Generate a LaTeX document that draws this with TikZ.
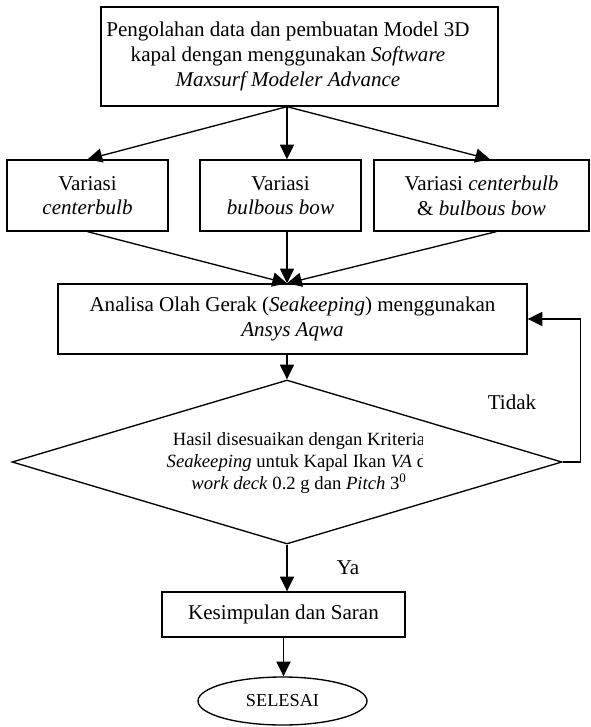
\documentclass[tikz,border=0pt]{standalone}
\usepackage{fontspec}
\setmainfont{Liberation Serif}
\usetikzlibrary{arrows.meta,shapes.geometric}

\tikzset{every picture/.style={line width=1pt}}
\tikzset{
  kotak/.style={draw, rectangle, inner sep=0pt, align=center, font=\fontsize{15.8}{18.5}\selectfont},
  belah/.style={draw, diamond, inner sep=0pt, shape aspect=3.35},
  bulat/.style={draw, ellipse, inner sep=0pt, font=\fontsize{13.7}{16}\selectfont},
  panah/.style={-{Triangle[length=11pt,width=10.5pt]}},
  teks/.style={font=\fontsize{15.8}{18.5}\selectfont}
}

\begin{document}
\begin{tikzpicture}[x=0.75pt,y=0.75pt,yscale=-1,xscale=1]
	\useasboundingbox (0,0) rectangle (590,727);

	%Shape: Rectangle [olah]
	\node[kotak, minimum width=297.75pt, minimum height=74.25pt] (olah) at (299.5,56.5) {};
	%Shape: Rectangle [variasi]
	\node[kotak, minimum width=120.75pt, minimum height=53.25pt] (v1) at (87.5,195.5) {Variasi\\ \textit{centerbulb}};
	\node[kotak, minimum width=120.75pt, minimum height=53.25pt] (v2) at (280.5,195.5) {Variasi\\ \textit{bulbous bow}};
	\node[kotak, minimum width=161.25pt, minimum height=53.25pt] (v3) at (481.5,195.5) {Variasi \textit{centerbulb}\\ \& \textit{bulbous bow}};
	%Shape: Rectangle [analisa]
	\node[kotak, minimum width=351.75pt, minimum height=52.5pt] (analisa) at (292.5,319) {Analisa Olah Gerak (\textit{Seakeeping}) menggunakan\\ \textit{Ansys Aqwa}};
	%Shape: Diamond [cek]
	\node[belah, minimum width=412.5pt, minimum height=123pt] (cek) at (287,462) {};
	%Shape: Rectangle [simpul]
	\node[kotak, minimum width=182.25pt, minimum height=33.75pt] (simpul) at (283.5,614.5) {Kesimpulan dan Saran};
	%Shape: Ellipse [selesai]
	\node[bulat, minimum width=126.75pt, minimum height=36pt] (selesai) at (282.5,701) {SELESAI};

	% Text Node
	\node[teks, align=center] (olahteks) at (288,56.5) {Pengolahan data dan pembuatan Model 3D\\ kapal dengan menggunakan \textit{Software}\\ \textit{Maxsurf Modeler Advance}};
	% Text Node
	\begin{scope}
	\clip (150,430) rectangle (422,500);
	\node[align=center, font=\fontsize{14}{16.5}\selectfont] (syarat) at (299,463) {Hasil disesuaikan dengan Kriteria\\ \textit{Seakeeping} untuk Kapal Ikan \textit{VA} di\\ \textit{work deck} 0.2 g dan \textit{Pitch} 3\textsuperscript{0}};
	\end{scope}
	% Text Node
	\node[teks] (tidak) at (512,402) {Tidak};
	% Text Node
	\node[teks] (ya) at (348,568) {Ya};

	%Straight Lines
	\coordinate (pecah) at ([xshift=-9.4pt]olah.south);
	\draw[panah] (pecah) -- (v1.north);
	\draw[panah] (pecah) -- (pecah |- v2.north);
	\draw[panah] (pecah) -- ([xshift=6.4pt]v3.north);
	\coordinate (temu) at ([xshift=-4.1pt]analisa.north);
	\draw[panah] (v1.south) -- (temu);
	\draw[panah] (temu |- v2.south) -- (temu);
	\draw[panah] ([xshift=11pt]v3.south) -- (temu);
	\draw[panah] (cek.north |- analisa.south) -- (cek.north);
	\draw[panah] (cek.east) -- ++(18,0) |- (analisa.east);
	\draw[panah] (cek.south) -- (cek.south |- simpul.north);
	\draw[panah] (simpul.south) -- (simpul.south |- selesai.north);

\end{tikzpicture}
\end{document}
